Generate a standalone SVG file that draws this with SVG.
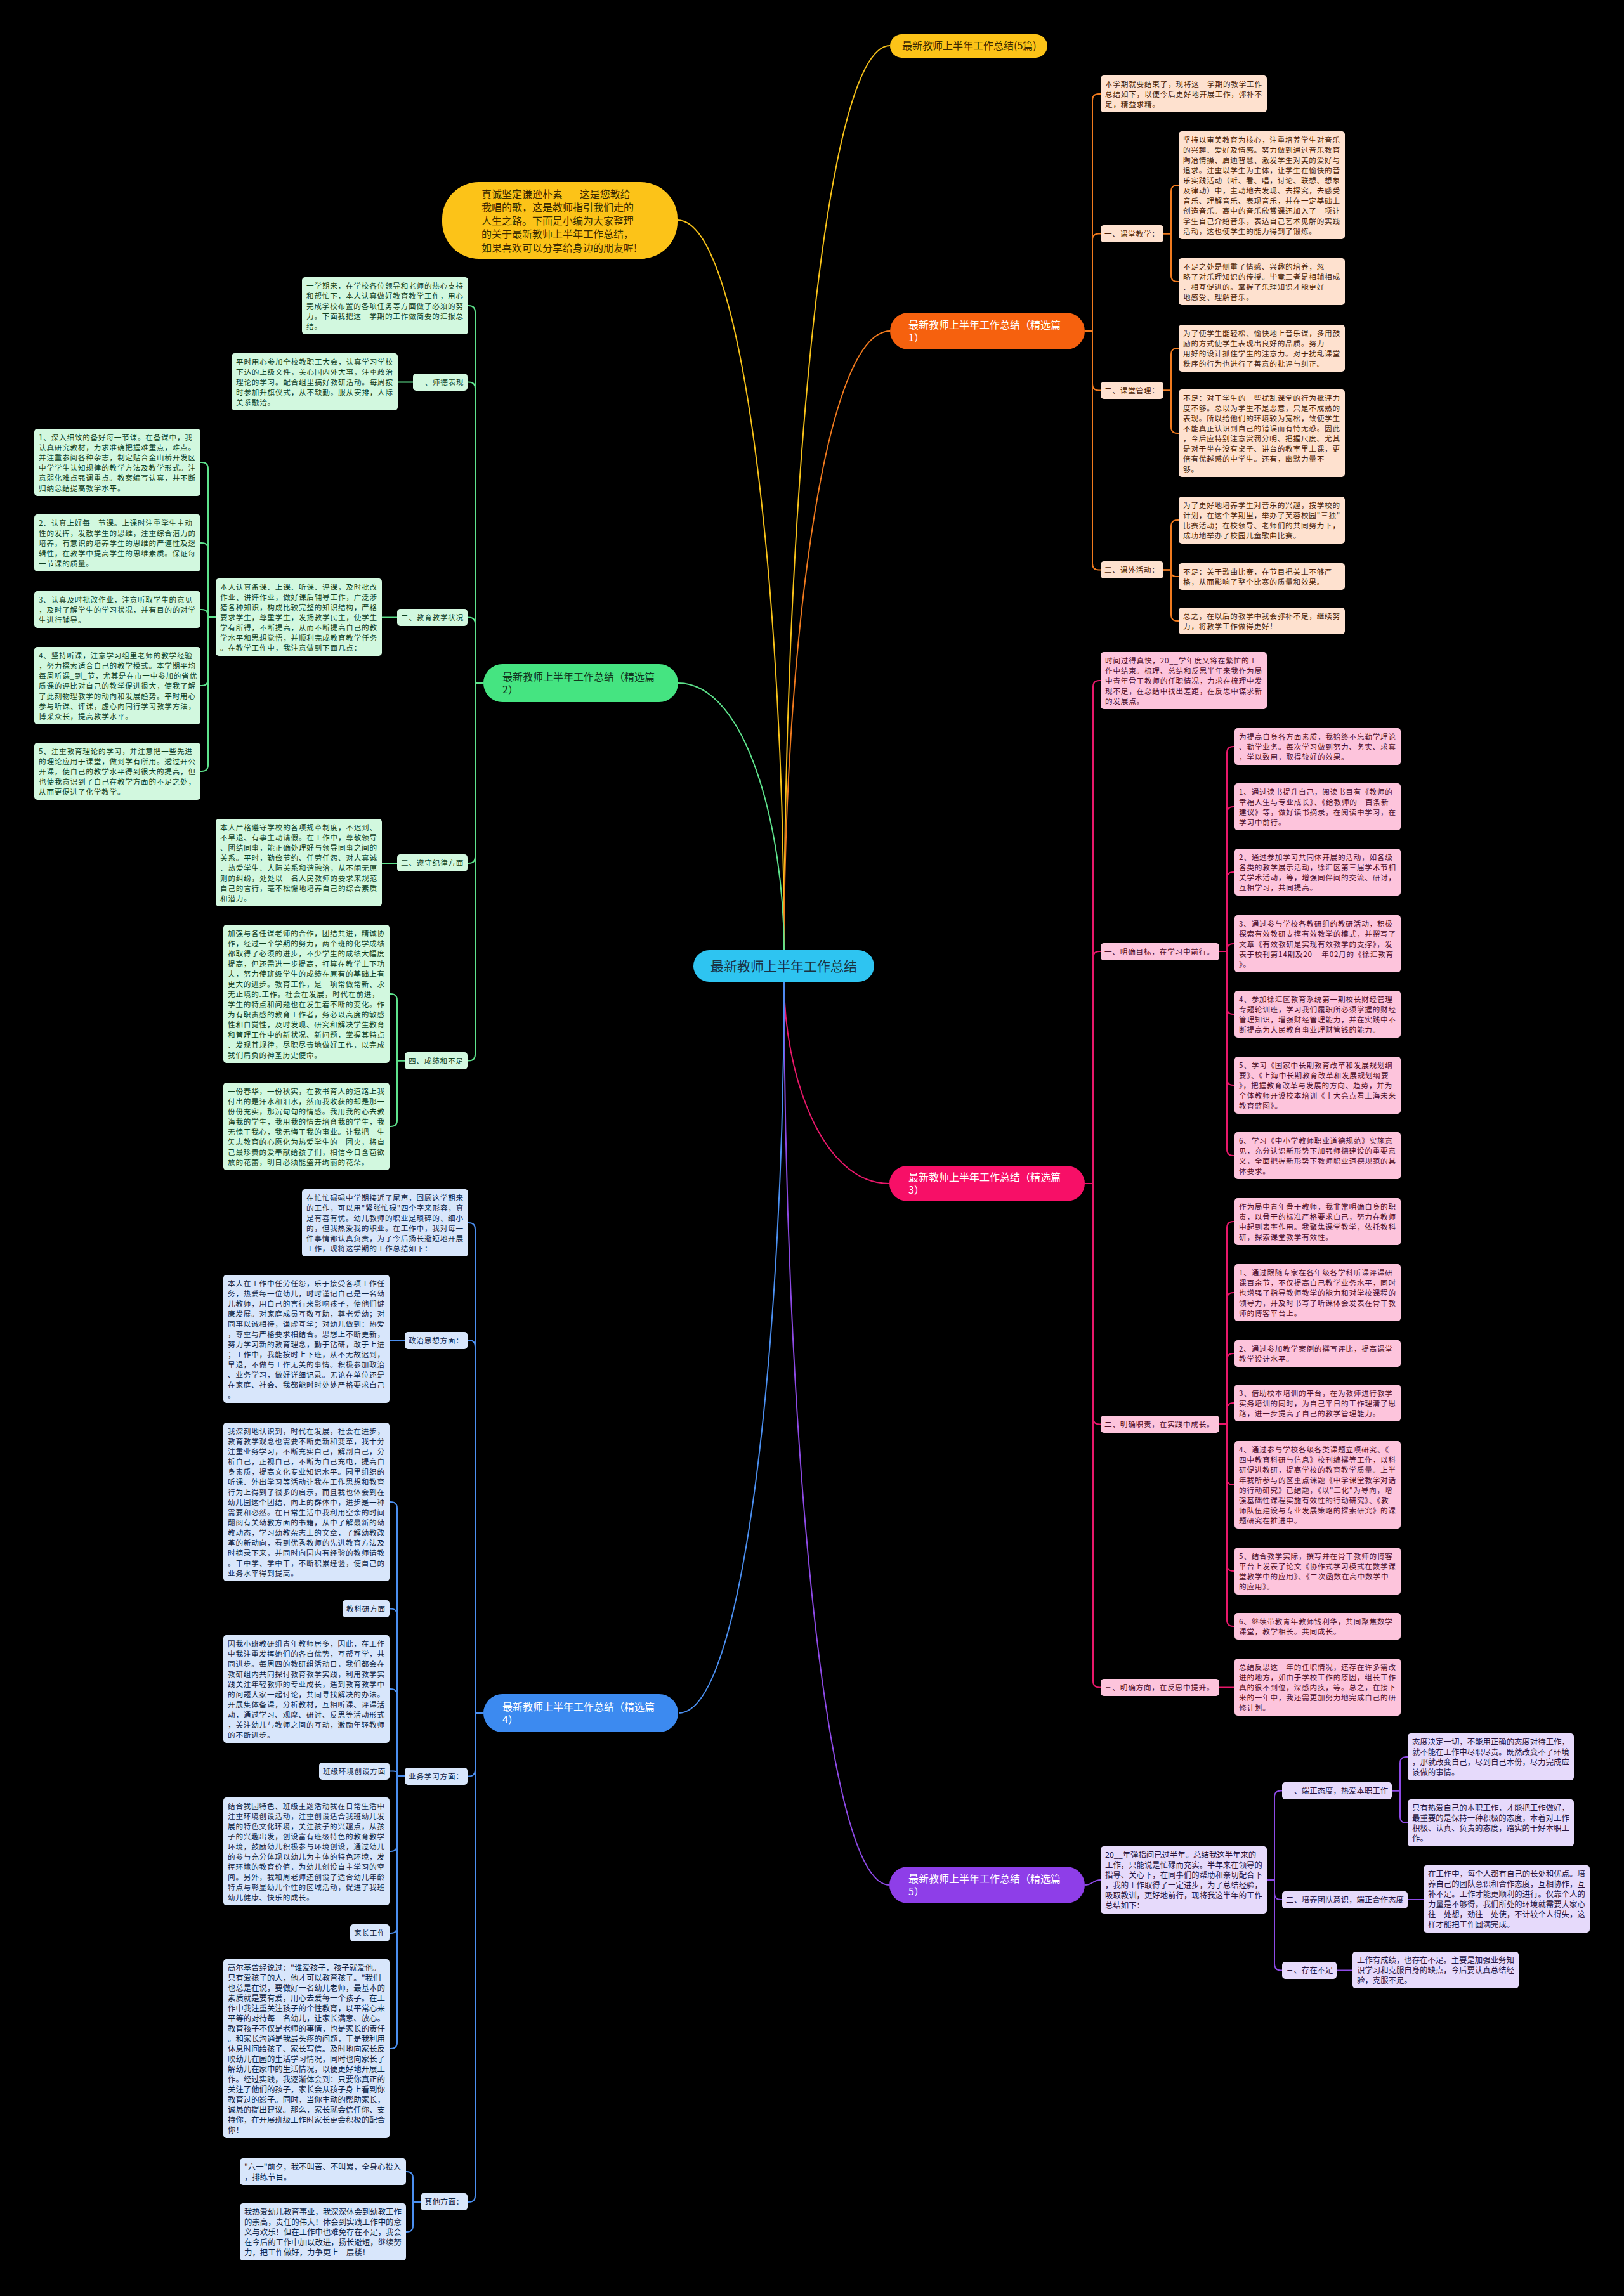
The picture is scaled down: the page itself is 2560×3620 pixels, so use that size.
<svg xmlns="http://www.w3.org/2000/svg" width="2560" height="3620" viewBox="0 0 2560 3620">
<style>
text{font-family:"Noto Sans CJK SC","Noto Sans",sans-serif;}
.t{font-size:11.6px;letter-spacing:0.8px;}
.tp{font-size:12.4px;}
.o rect{fill:#fee1cf}.o text{fill:#4a1d06}
.p rect{fill:#fdc4dc}.p text{fill:#4d0d28}
.v rect{fill:#e6dafb}.v text{fill:#25143f}
.g rect{fill:#d2f8df}.g text{fill:#0e3f1f}
.b rect{fill:#d8e6fb}.b text{fill:#0d2446}
.main{font-size:16px;}
.c path{fill:none;stroke-width:2;}
.co path{stroke:#f07a1e}.cp path{stroke:#e8186a}.cv path{stroke:#8e4ae6}.cg path{stroke:#5ee38c}.cb path{stroke:#4b8ff0}.cy path{stroke:#f7c21a}
</style>
<rect x="0" y="0" width="2560" height="3620" fill="#000"/>

<g id="connectors" class="c">
 <g class="cy">
  <path d="M1236 1498C1236 856 1294 72 1403 72"/>
  <path d="M1236 1498C1236 980 1177 347 1068 347"/>
 </g>
 <g class="co">
  <path d="M1236 1498C1236 1059 1294 522 1403 522"/>
  <path d="M1710 522H1722V158Q1722 148 1732 148H1735"/>
  <path d="M1710 522H1722V378.5Q1722 368.5 1732 368.5H1735"/>
  <path d="M1710 522H1722V605.5Q1722 615.5 1732 615.5H1735"/>
  <path d="M1710 522H1722V888.5Q1722 898.5 1732 898.5H1735"/>
  <path d="M1834 368.5H1846V302Q1846 292 1856 292H1858"/>
  <path d="M1834 368.5H1846V434Q1846 444 1856 444H1858"/>
  <path d="M1834 615.5H1846V559Q1846 549 1856 549H1858"/>
  <path d="M1834 615.5H1846V673Q1846 683 1856 683H1858"/>
  <path d="M1834 898.5H1846V830Q1846 820 1856 820H1858"/>
  <path d="M1834 898.5H1846V901Q1846 909 1854 909H1858"/>
  <path d="M1834 898.5H1846V969Q1846 979 1856 979H1858"/>
 </g>
 <g class="cp">
  <path d="M1236 1548C1236 1691 1294 1866 1402 1866"/>
  <path d="M1710 1866H1723V1083Q1723 1073 1733 1073H1735"/>
  <path d="M1710 1866H1723V1510Q1723 1500 1733 1500H1735"/>
  <path d="M1710 1866H1723V2235.5Q1723 2245.5 1733 2245.5H1735"/>
  <path d="M1710 1866H1723V2650.5Q1723 2660.5 1733 2660.5H1735"/>
  <path d="M1922 1500H1934V1187Q1934 1177 1944 1177H1946"/>
  <path d="M1922 1500H1934V1282Q1934 1272 1944 1272H1946"/>
  <path d="M1922 1500H1934V1385Q1934 1375 1944 1375H1946"/>
  <path d="M1922 1500H1934V1498Q1934 1488 1944 1488H1946"/>
  <path d="M1922 1500H1934V1589Q1934 1599 1944 1599H1946"/>
  <path d="M1922 1500H1934V1701Q1934 1711 1944 1711H1946"/>
  <path d="M1922 1500H1934V1812Q1934 1822 1944 1822H1946"/>
  <path d="M1922 2245.5H1934V1936Q1934 1926 1944 1926H1946"/>
  <path d="M1922 2245.5H1934V2048Q1934 2038 1944 2038H1946"/>
  <path d="M1922 2245.5H1934V2144Q1934 2134 1944 2134H1946"/>
  <path d="M1922 2245.5H1934V2222Q1934 2212 1944 2212H1946"/>
  <path d="M1922 2245.5H1934V2331Q1934 2341 1944 2341H1946"/>
  <path d="M1922 2245.5H1934V2467Q1934 2477 1944 2477H1946"/>
  <path d="M1922 2245.5H1934V2554Q1934 2564 1944 2564H1946"/>
  <path d="M1922 2660.5H1946"/>
 </g>
 <g class="cv">
  <path d="M1236 1548C1236 2189 1294 2972 1402 2972"/>
  <path d="M1710 2972C1723 2972 1722 2964 1735 2964"/>
  <path d="M1997 2964H2009V2833.5Q2009 2823.5 2019 2823.5H2021"/>
  <path d="M1997 2964H2009V2985Q2009 2995 2019 2995H2021"/>
  <path d="M1997 2964H2009V3096.5Q2009 3106.5 2019 3106.5H2021"/>
  <path d="M2194 2823.5H2207V2780Q2207 2770 2217 2770H2219"/>
  <path d="M2194 2823.5H2207V2864Q2207 2874 2217 2874H2219"/>
  <path d="M2219 2995H2244"/>
  <path d="M2107 3106.5H2132"/>
 </g>
 <g class="cg">
  <path d="M1236 1498C1236 1309 1177 1077 1069 1077"/>
  <path d="M762 1077H749V492Q749 482 739 482H737"/>
  <path d="M762 1077H749V612.5Q749 602.5 739 602.5H737"/>
  <path d="M762 1077H749V983.5Q749 973.5 739 973.5H737"/>
  <path d="M762 1077H749V1351Q749 1361 739 1361H737"/>
  <path d="M762 1077H749V1662.5Q749 1672.5 739 1672.5H737"/>
  <path d="M651 602.5H627"/>
  <path d="M626 973.5H602"/>
  <path d="M340 973H328V739Q328 729 318 729H316"/>
  <path d="M340 973H328V866Q328 856 318 856H316"/>
  <path d="M340 973H328V971Q328 961 318 961H316"/>
  <path d="M340 973H328V1071Q328 1081 318 1081H316"/>
  <path d="M340 973H328V1206Q328 1216 318 1216H316"/>
  <path d="M626 1361H602"/>
  <path d="M638 1672.5H626V1577Q626 1567 616 1567H614"/>
  <path d="M638 1672.5H626V1766Q626 1776 616 1776H614"/>
 </g>
 <g class="cb">
  <path d="M1236 1548C1236 2067 1178 2701 1070 2701"/>
  <path d="M762 2701H749V1938Q749 1928 739 1928H737"/>
  <path d="M762 2701H749V2123Q749 2113 739 2113H737"/>
  <path d="M762 2701H749V2790.5Q749 2800.5 739 2800.5H737"/>
  <path d="M762 2701H749V3462Q749 3472 739 3472H737"/>
  <path d="M638 2113H614"/>
  <path d="M638 2800.5H626V2378Q626 2368 616 2368H614"/>
  <path d="M638 2800.5H626V2546.5Q626 2536.5 616 2536.5H614"/>
  <path d="M638 2800.5H626V2673Q626 2663 616 2663H614"/>
  <path d="M638 2800.5H626V2795Q626 2792.5 620 2792.5H614"/>
  <path d="M638 2800.5H626V2909Q626 2919 616 2919H614"/>
  <path d="M638 2800.5H626V3038Q626 3048 616 3048H614"/>
  <path d="M638 2800.5H626V3220Q626 3230 616 3230H614"/>
  <path d="M663 3472H651V3434Q651 3424 641 3424H640"/>
  <path d="M663 3472H651V3509Q651 3519 641 3519H640"/>
 </g>
</g>

<!-- top level -->
<g id="center"><rect x="1093" y="1498" width="285" height="50" rx="25" fill="#2ec4f1"/><text x="1235.5" y="1530.5" font-size="21" text-anchor="middle" fill="#1a3344">最新教师上半年工作总结</text></g>
<g id="title5"><rect x="1403" y="54" width="248" height="37" rx="18.5" fill="#fcc318"/><text class="main" x="1422" y="78" fill="#3a2b00">最新教师上半年工作总结(5篇)</text></g>
<g id="callout"><rect x="697" y="287" width="371" height="121" rx="58" fill="#fcc318"/><text class="main" x="759" y="311.5" fill="#3a2b00"><tspan x="759">真诚坚定谦逊朴素——这是您教给</tspan><tspan x="759" dy="21.3">我唱的歌，这是教师指引我们走的</tspan><tspan x="759" dy="21.3">人生之路。下面是小编为大家整理</tspan><tspan x="759" dy="21.3">的关于最新教师上半年工作总结，</tspan><tspan x="759" dy="21.3">如果喜欢可以分享给身边的朋友喔!</tspan></text></g>
<g id="b1"><rect x="1403" y="493" width="307" height="58" rx="29" fill="#f6610e"/><text class="main" x="1432" y="517.5" fill="#fff"><tspan x="1432">最新教师上半年工作总结（精选篇</tspan><tspan x="1432" dy="20">1）</tspan></text></g>
<g id="b3"><rect x="1402" y="1838" width="308" height="56" rx="28" fill="#f70f67"/><text class="main" x="1432" y="1861.5" fill="#fff"><tspan x="1432">最新教师上半年工作总结（精选篇</tspan><tspan x="1432" dy="20">3）</tspan></text></g>
<g id="b5"><rect x="1402" y="2943" width="308" height="58" rx="29" fill="#8e3ee8"/><text class="main" x="1432" y="2967.5" fill="#fff"><tspan x="1432">最新教师上半年工作总结（精选篇</tspan><tspan x="1432" dy="20">5）</tspan></text></g>
<g id="b2"><rect x="762" y="1047" width="307" height="60" rx="30" fill="#45e481"/><text class="main" x="792" y="1072.5" fill="#12381f"><tspan x="792">最新教师上半年工作总结（精选篇</tspan><tspan x="792" dy="20">2）</tspan></text></g>
<g id="b4"><rect x="762" y="2671" width="307" height="60" rx="30" fill="#3c8af0"/><text class="main" x="792" y="2696.5" fill="#fff"><tspan x="792">最新教师上半年工作总结（精选篇</tspan><tspan x="792" dy="20">4）</tspan></text></g>

<!-- 精选篇1 -->
<g id="n1-intro" class="o"><rect x="1735" y="119" width="262" height="58" rx="5"/><text class="t" x="1742" y="136.5"><tspan x="1742">本学期就要结束了，现将这一学期的教学工作</tspan><tspan x="1742" dy="16">总结如下，以便今后更好地开展工作，弥补不</tspan><tspan x="1742" dy="16">足，精益求精。</tspan></text></g>
<g id="n1-l1" class="o"><rect x="1735" y="355" width="99" height="27" rx="5"/><text class="t" x="1741" y="373">一、课堂教学：</text></g>
<g id="n1-a1" class="o"><rect x="1858" y="207" width="262" height="170" rx="5"/><text class="t" x="1865" y="224.5"><tspan x="1865">坚持以审美教育为核心，注重培养学生对音乐</tspan><tspan x="1865" dy="16">的兴趣、爱好及情感。努力做到通过音乐教育</tspan><tspan x="1865" dy="16">陶冶情操、启迪智慧、激发学生对美的爱好与</tspan><tspan x="1865" dy="16">追求。注重以学生为主体，让学生在愉快的音</tspan><tspan x="1865" dy="16">乐实践活动（听、看、唱，讨论、联想、想象</tspan><tspan x="1865" dy="16">及律动）中，主动地去发现、去探究，去感受</tspan><tspan x="1865" dy="16">音乐、理解音乐、表现音乐，并在一定基础上</tspan><tspan x="1865" dy="16">创造音乐。高中的音乐欣赏课还加入了一项让</tspan><tspan x="1865" dy="16">学生自己介绍音乐，表达自己艺术见解的实践</tspan><tspan x="1865" dy="16">活动，这也使学生的能力得到了锻炼。</tspan></text></g>
<g id="n1-a2" class="o"><rect x="1858" y="407" width="262" height="74" rx="5"/><text class="t" x="1865" y="424.5"><tspan x="1865">不足之处是侧重了情感、兴趣的培养，忽</tspan><tspan x="1865" dy="16">略了对乐理知识的传授。毕竟三者是相辅相成</tspan><tspan x="1865" dy="16">、相互促进的。掌握了乐理知识才能更好</tspan><tspan x="1865" dy="16">地感受、理解音乐。</tspan></text></g>
<g id="n1-l2" class="o"><rect x="1735" y="602" width="99" height="27" rx="5"/><text class="t" x="1741" y="620">二、课堂管理：</text></g>
<g id="n1-b1" class="o"><rect x="1858" y="512" width="262" height="74" rx="5"/><text class="t" x="1865" y="529.5"><tspan x="1865">为了使学生能轻松、愉快地上音乐课，多用鼓</tspan><tspan x="1865" dy="16">励的方式使学生表现出良好的品质。努力</tspan><tspan x="1865" dy="16">用好的设计抓住学生的注意力。对于扰乱课堂</tspan><tspan x="1865" dy="16">秩序的行为也进行了善意的批评与纠正。</tspan></text></g>
<g id="n1-b2" class="o"><rect x="1858" y="614" width="262" height="138" rx="5"/><text class="t" x="1865" y="631.5"><tspan x="1865">不足：对于学生的一些扰乱课堂的行为批评力</tspan><tspan x="1865" dy="16">度不够。总以为学生不是恶意，只是不成熟的</tspan><tspan x="1865" dy="16">表现。所以给他们的环境较为宽松，致使学生</tspan><tspan x="1865" dy="16">不能真正认识到自己的错误而有恃无恐。因此</tspan><tspan x="1865" dy="16">，今后应特别注意赏罚分明、把握尺度。尤其</tspan><tspan x="1865" dy="16">是对于坐在没有桌子、讲台的教室里上课，更</tspan><tspan x="1865" dy="16">倍有优越感的中学生。还有，幽默力量不</tspan><tspan x="1865" dy="16">够。</tspan></text></g>
<g id="n1-l3" class="o"><rect x="1735" y="885" width="99" height="27" rx="5"/><text class="t" x="1741" y="903">三、课外活动：</text></g>
<g id="n1-c1" class="o"><rect x="1858" y="783" width="262" height="74" rx="5"/><text class="t" x="1865" y="800.5"><tspan x="1865">为了更好地培养学生对音乐的兴趣，按学校的</tspan><tspan x="1865" dy="16">计划，在这个学期里，举办了芙蓉校园"三独"</tspan><tspan x="1865" dy="16">比赛活动；在校领导、老师们的共同努力下，</tspan><tspan x="1865" dy="16">成功地举办了校园儿童歌曲比赛。</tspan></text></g>
<g id="n1-c2" class="o"><rect x="1858" y="888" width="262" height="42" rx="5"/><text class="t" x="1865" y="905.5"><tspan x="1865">不足：关于歌曲比赛，在节目把关上不够严</tspan><tspan x="1865" dy="16">格，从而影响了整个比赛的质量和效果。</tspan></text></g>
<g id="n1-c3" class="o"><rect x="1858" y="958" width="262" height="42" rx="5"/><text class="t" x="1865" y="975.5"><tspan x="1865">总之，在以后的教学中我会弥补不足，继续努</tspan><tspan x="1865" dy="16">力，将教学工作做得更好！</tspan></text></g>

<!-- 精选篇3 -->
<g id="n3-intro" class="p"><rect x="1735" y="1028" width="262" height="90" rx="5"/><text class="t" x="1742" y="1045.5"><tspan x="1742">时间过得真快，20__学年度又将在繁忙的工</tspan><tspan x="1742" dy="16">作中结束。梳理、总结和反思半年来我作为局</tspan><tspan x="1742" dy="16">中青年骨干教师的任职情况，力求在梳理中发</tspan><tspan x="1742" dy="16">现不足，在总结中找出差距，在反思中谋求新</tspan><tspan x="1742" dy="16">的发展点。</tspan></text></g>
<g id="n3-l1" class="p"><rect x="1735" y="1487" width="187" height="27" rx="5"/><text class="t" x="1741" y="1505">一、明确目标，在学习中前行。</text></g>
<g id="n3-p1" class="p"><rect x="1946" y="1148" width="262" height="58" rx="5"/><text class="t" x="1953" y="1165.5"><tspan x="1953">为提高自身各方面素质，我始终不忘勤学理论</tspan><tspan x="1953" dy="16">、勤学业务。每次学习做到努力、务实、求真</tspan><tspan x="1953" dy="16">，学以致用，取得较好的效果。</tspan></text></g>
<g id="n3-p2" class="p"><rect x="1946" y="1235" width="262" height="74" rx="5"/><text class="t" x="1953" y="1252.5"><tspan x="1953">1、通过读书提升自己，阅读书目有《教师的</tspan><tspan x="1953" dy="16">幸福人生与专业成长》、《给教师的一百条新</tspan><tspan x="1953" dy="16">建议》等，做好读书摘录，在阅读中学习，在</tspan><tspan x="1953" dy="16">学习中前行。</tspan></text></g>
<g id="n3-p3" class="p"><rect x="1946" y="1338" width="262" height="74" rx="5"/><text class="t" x="1953" y="1355.5"><tspan x="1953">2、通过参加学习共同体开展的活动，如各级</tspan><tspan x="1953" dy="16">各类的教学展示活动，徐汇区第三届学术节相</tspan><tspan x="1953" dy="16">关学术活动，等，增强同伴间的交流、研讨，</tspan><tspan x="1953" dy="16">互相学习，共同提高。</tspan></text></g>
<g id="n3-p4" class="p"><rect x="1946" y="1443" width="262" height="90" rx="5"/><text class="t" x="1953" y="1460.5"><tspan x="1953">3、通过参与学校各教研组的教研活动，积极</tspan><tspan x="1953" dy="16">探索有效教研支撑有效教学的模式，并撰写了</tspan><tspan x="1953" dy="16">文章《有效教研是实现有效教学的支撑》，发</tspan><tspan x="1953" dy="16">表于校刊第14期及20__年02月的《徐汇教育</tspan><tspan x="1953" dy="16">》。</tspan></text></g>
<g id="n3-p5" class="p"><rect x="1946" y="1562" width="262" height="74" rx="5"/><text class="t" x="1953" y="1579.5"><tspan x="1953">4、参加徐汇区教育系统第一期校长财经管理</tspan><tspan x="1953" dy="16">专题轮训班，学习我们履职所必须掌握的财经</tspan><tspan x="1953" dy="16">管理知识，增强财经管理能力，并在实践中不</tspan><tspan x="1953" dy="16">断提高为人民教育事业理财管钱的能力。</tspan></text></g>
<g id="n3-p6" class="p"><rect x="1946" y="1666" width="262" height="90" rx="5"/><text class="t" x="1953" y="1683.5"><tspan x="1953">5、学习《国家中长期教育改革和发展规划纲</tspan><tspan x="1953" dy="16">要》、《上海中长期教育改革和发展规划纲要</tspan><tspan x="1953" dy="16">》，把握教育改革与发展的方向、趋势，并为</tspan><tspan x="1953" dy="16">全体教师开设校本培训《十大亮点看上海未来</tspan><tspan x="1953" dy="16">教育蓝图》。</tspan></text></g>
<g id="n3-p7" class="p"><rect x="1946" y="1785" width="262" height="74" rx="5"/><text class="t" x="1953" y="1802.5"><tspan x="1953">6、学习《中小学教师职业道德规范》实施意</tspan><tspan x="1953" dy="16">见，充分认识新形势下加强师德建设的重要意</tspan><tspan x="1953" dy="16">义，全面把握新形势下教师职业道德规范的具</tspan><tspan x="1953" dy="16">体要求。</tspan></text></g>
<g id="n3-l2" class="p"><rect x="1735" y="2232" width="187" height="27" rx="5"/><text class="t" x="1741" y="2250">二、明确职责，在实践中成长。</text></g>
<g id="n3-q1" class="p"><rect x="1946" y="1889" width="262" height="74" rx="5"/><text class="t" x="1953" y="1906.5"><tspan x="1953">作为局中青年骨干教师，我非常明确自身的职</tspan><tspan x="1953" dy="16">责，以骨干的标准严格要求自己，努力在教师</tspan><tspan x="1953" dy="16">中起到表率作用。我聚焦课堂教学，依托教科</tspan><tspan x="1953" dy="16">研，探索课堂教学有效性。</tspan></text></g>
<g id="n3-q2" class="p"><rect x="1946" y="1993" width="262" height="90" rx="5"/><text class="t" x="1953" y="2010.5"><tspan x="1953">1、通过跟随专家在各年级各学科听课评课研</tspan><tspan x="1953" dy="16">课百余节，不仅提高自己教学业务水平，同时</tspan><tspan x="1953" dy="16">也增强了指导教师教学的能力和对学校课程的</tspan><tspan x="1953" dy="16">领导力，并及时书写了听课体会发表在骨干教</tspan><tspan x="1953" dy="16">师的博客平台上。</tspan></text></g>
<g id="n3-q3" class="p"><rect x="1946" y="2113" width="262" height="42" rx="5"/><text class="t" x="1953" y="2130.5"><tspan x="1953">2、通过参加教学案例的撰写评比，提高课堂</tspan><tspan x="1953" dy="16">教学设计水平。</tspan></text></g>
<g id="n3-q4" class="p"><rect x="1946" y="2183" width="262" height="58" rx="5"/><text class="t" x="1953" y="2200.5"><tspan x="1953">3、借助校本培训的平台，在为教师进行教学</tspan><tspan x="1953" dy="16">实务培训的同时，为自己平日的工作理清了思</tspan><tspan x="1953" dy="16">路，进一步提高了自己的教学管理能力。</tspan></text></g>
<g id="n3-q5" class="p"><rect x="1946" y="2272" width="262" height="138" rx="5"/><text class="t" x="1953" y="2289.5"><tspan x="1953">4、通过参与学校各级各类课题立项研究、《</tspan><tspan x="1953" dy="16">四中教育科研与信息》校刊编撰等工作，以科</tspan><tspan x="1953" dy="16">研促进教研，提高学校的教育教学质量。上半</tspan><tspan x="1953" dy="16">年我所参与的区重点课题《中学课堂教学对话</tspan><tspan x="1953" dy="16">的行动研究》已结题，《以"三化"为导向，增</tspan><tspan x="1953" dy="16">强基础性课程实施有效性的行动研究》、《教</tspan><tspan x="1953" dy="16">师队伍建设与专业发展策略的探索研究》的课</tspan><tspan x="1953" dy="16">题研究在推进中。</tspan></text></g>
<g id="n3-q6" class="p"><rect x="1946" y="2440" width="262" height="74" rx="5"/><text class="t" x="1953" y="2457.5"><tspan x="1953">5、结合教学实际，撰写并在骨干教师的博客</tspan><tspan x="1953" dy="16">平台上发表了论文《协作式学习模式在数学课</tspan><tspan x="1953" dy="16">堂教学中的应用》、《二次函数在高中数学中</tspan><tspan x="1953" dy="16">的应用》。</tspan></text></g>
<g id="n3-q7" class="p"><rect x="1946" y="2543" width="262" height="42" rx="5"/><text class="t" x="1953" y="2560.5"><tspan x="1953">6、继续带教青年教师钱利华，共同聚焦数学</tspan><tspan x="1953" dy="16">课堂，教学相长。共同成长。</tspan></text></g>
<g id="n3-l3" class="p"><rect x="1735" y="2647" width="187" height="27" rx="5"/><text class="t" x="1741" y="2665">三、明确方向，在反思中提升。</text></g>
<g id="n3-r1" class="p"><rect x="1946" y="2615" width="262" height="90" rx="5"/><text class="t" x="1953" y="2632.5"><tspan x="1953">总结反思这一年的任职情况，还存在许多需改</tspan><tspan x="1953" dy="16">进的地方，如由于学校工作的原因，组长工作</tspan><tspan x="1953" dy="16">真的很不到位，深感内疚，等。总之，在接下</tspan><tspan x="1953" dy="16">来的一年中，我还需更加努力地完成自己的研</tspan><tspan x="1953" dy="16">修计划。</tspan></text></g>

<!-- 精选篇5 -->
<g id="n5-intro" class="v"><rect x="1735" y="2911" width="262" height="106" rx="5"/><text class="tp" x="1742" y="2928.5"><tspan x="1742">20__年弹指间已过半年。总结我这半年来的</tspan><tspan x="1742" dy="16">工作，只能说是忙碌而充实。半年来在领导的</tspan><tspan x="1742" dy="16">指导、关心下，在同事们的帮助和亲切配合下</tspan><tspan x="1742" dy="16">，我的工作取得了一定进步，为了总结经验，</tspan><tspan x="1742" dy="16">吸取教训，更好地前行，现将我这半年的工作</tspan><tspan x="1742" dy="16">总结如下：</tspan></text></g>
<g id="n5-l1" class="v"><rect x="2021" y="2810" width="173" height="27" rx="5"/><text class="tp" x="2027" y="2828">一、端正态度，热爱本职工作</text></g>
<g id="n5-s1" class="v"><rect x="2219" y="2733" width="262" height="74" rx="5"/><text class="tp" x="2226" y="2750.5"><tspan x="2226">态度决定一切，不能用正确的态度对待工作，</tspan><tspan x="2226" dy="16">就不能在工作中尽职尽责。既然改变不了环境</tspan><tspan x="2226" dy="16">，那就改变自己，尽到自己本份，尽力完成应</tspan><tspan x="2226" dy="16">该做的事情。</tspan></text></g>
<g id="n5-s2" class="v"><rect x="2219" y="2837" width="262" height="74" rx="5"/><text class="tp" x="2226" y="2854.5"><tspan x="2226">只有热爱自己的本职工作，才能把工作做好，</tspan><tspan x="2226" dy="16">最重要的是保持一种积极的态度，本着对工作</tspan><tspan x="2226" dy="16">积极、认真、负责的态度，踏实的干好本职工</tspan><tspan x="2226" dy="16">作。</tspan></text></g>
<g id="n5-l2" class="v"><rect x="2021" y="2982" width="198" height="27" rx="5"/><text class="tp" x="2027" y="3000">二、培养团队意识，端正合作态度</text></g>
<g id="n5-t1" class="v"><rect x="2244" y="2941" width="262" height="106" rx="5"/><text class="tp" x="2251" y="2958.5"><tspan x="2251">在工作中，每个人都有自己的长处和优点。培</tspan><tspan x="2251" dy="16">养自己的团队意识和合作态度，互相协作，互</tspan><tspan x="2251" dy="16">补不足。工作才能更顺利的进行。仅靠个人的</tspan><tspan x="2251" dy="16">力量是不够得，我们所处的环境就需要大家心</tspan><tspan x="2251" dy="16">往一处想，劲往一处使，不计较个人得失，这</tspan><tspan x="2251" dy="16">样才能把工作圆满完成。</tspan></text></g>
<g id="n5-l3" class="v"><rect x="2021" y="3093" width="86" height="27" rx="5"/><text class="tp" x="2027" y="3111">三、存在不足</text></g>
<g id="n5-u1" class="v"><rect x="2132" y="3077" width="262" height="58" rx="5"/><text class="tp" x="2139" y="3094.5"><tspan x="2139">工作有成绩，也存在不足。主要是加强业务知</tspan><tspan x="2139" dy="16">识学习和克服自身的缺点，今后要认真总结经</tspan><tspan x="2139" dy="16">验，克服不足。</tspan></text></g>

<!-- 精选篇2 -->
<g id="n2-intro" class="g"><rect x="476" y="437" width="262" height="90" rx="5"/><text class="t" x="483" y="454.5"><tspan x="483">一学期来，在学校各位领导和老师的热心支持</tspan><tspan x="483" dy="16">和帮忙下，本人认真做好教育教学工作，用心</tspan><tspan x="483" dy="16">完成学校布置的各项任务等方面做了必须的努</tspan><tspan x="483" dy="16">力。下面我把这一学期的工作做简要的汇报总</tspan><tspan x="483" dy="16">结。</tspan></text></g>
<g id="n2-l1" class="g"><rect x="651" y="589" width="86" height="27" rx="5"/><text class="t" x="657" y="607">一、师德表现</text></g>
<g id="n2-v1" class="g"><rect x="365" y="557" width="262" height="90" rx="5"/><text class="t" x="372" y="574.5"><tspan x="372">平时用心参加全校教职工大会，认真学习学校</tspan><tspan x="372" dy="16">下达的上级文件，关心国内外大事，注重政治</tspan><tspan x="372" dy="16">理论的学习。配合组里搞好教研活动。每周按</tspan><tspan x="372" dy="16">时参加升旗仪式，从不缺勤。服从安排，人际</tspan><tspan x="372" dy="16">关系融洽。</tspan></text></g>
<g id="n2-l2" class="g"><rect x="626" y="960" width="111" height="27" rx="5"/><text class="t" x="632" y="978">二、教育教学状况</text></g>
<g id="n2-w" class="g"><rect x="340" y="912" width="262" height="122" rx="5"/><text class="t" x="347" y="929.5"><tspan x="347">本人认真备课、上课、听课、评课，及时批改</tspan><tspan x="347" dy="16">作业、讲评作业，做好课后辅导工作，广泛涉</tspan><tspan x="347" dy="16">猎各种知识，构成比较完整的知识结构，严格</tspan><tspan x="347" dy="16">要求学生，尊重学生，发扬教学民主，使学生</tspan><tspan x="347" dy="16">学有所得，不断提高，从而不断提高自己的教</tspan><tspan x="347" dy="16">学水平和思想觉悟，并顺利完成教育教学任务</tspan><tspan x="347" dy="16">。在教学工作中，我注意做到下面几点：</tspan></text></g>
<g id="n2-w1" class="g"><rect x="54" y="676" width="262" height="106" rx="5"/><text class="t" x="61" y="693.5"><tspan x="61">1、深入细致的备好每一节课。在备课中，我</tspan><tspan x="61" dy="16">认真研究教材，力求准确把握难重点，难点。</tspan><tspan x="61" dy="16">并注重参阅各种杂志，制定贴合金山桥开发区</tspan><tspan x="61" dy="16">中学学生认知规律的教学方法及教学形式。注</tspan><tspan x="61" dy="16">意弱化难点强调重点。教案编写认真，并不断</tspan><tspan x="61" dy="16">归纳总结提高教学水平。</tspan></text></g>
<g id="n2-w2" class="g"><rect x="54" y="811" width="262" height="90" rx="5"/><text class="t" x="61" y="828.5"><tspan x="61">2、认真上好每一节课。上课时注重学生主动</tspan><tspan x="61" dy="16">性的发挥，发散学生的思维，注重综合潜力的</tspan><tspan x="61" dy="16">培养，有意识的培养学生的思维的严谨性及逻</tspan><tspan x="61" dy="16">辑性，在教学中提高学生的思维素质。保证每</tspan><tspan x="61" dy="16">一节课的质量。</tspan></text></g>
<g id="n2-w3" class="g"><rect x="54" y="932" width="262" height="58" rx="5"/><text class="t" x="61" y="949.5"><tspan x="61">3、认真及时批改作业，注意听取学生的意见</tspan><tspan x="61" dy="16">，及时了解学生的学习状况，并有目的的对学</tspan><tspan x="61" dy="16">生进行辅导。</tspan></text></g>
<g id="n2-w4" class="g"><rect x="54" y="1020" width="262" height="122" rx="5"/><text class="t" x="61" y="1037.5"><tspan x="61">4、坚持听课，注意学习组里老师的教学经验</tspan><tspan x="61" dy="16">，努力探索适合自己的教学模式。本学期平均</tspan><tspan x="61" dy="16">每周听课_到_节，尤其是在市一中参加的省优</tspan><tspan x="61" dy="16">质课的评比对自己的教学促进很大，使我了解</tspan><tspan x="61" dy="16">了此刻物理教学的动向和发展趋势。平时用心</tspan><tspan x="61" dy="16">参与听课、评课，虚心向同行学习教学方法，</tspan><tspan x="61" dy="16">博采众长，提高教学水平。</tspan></text></g>
<g id="n2-w5" class="g"><rect x="54" y="1171" width="262" height="90" rx="5"/><text class="t" x="61" y="1188.5"><tspan x="61">5、注重教育理论的学习，并注意把一些先进</tspan><tspan x="61" dy="16">的理论应用于课堂，做到学有所用。透过开公</tspan><tspan x="61" dy="16">开课，使自己的教学水平得到很大的提高，但</tspan><tspan x="61" dy="16">也使我意识到了自己在教学方面的不足之处，</tspan><tspan x="61" dy="16">从而更促进了化学教学。</tspan></text></g>
<g id="n2-l3" class="g"><rect x="626" y="1347" width="111" height="27" rx="5"/><text class="t" x="632" y="1365">三、遵守纪律方面</text></g>
<g id="n2-x1" class="g"><rect x="340" y="1291" width="262" height="138" rx="5"/><text class="t" x="347" y="1308.5"><tspan x="347">本人严格遵守学校的各项规章制度，不迟到、</tspan><tspan x="347" dy="16">不早退、有事主动请假。在工作中，尊敬领导</tspan><tspan x="347" dy="16">、团结同事，能正确处理好与领导同事之间的</tspan><tspan x="347" dy="16">关系。平时，勤俭节约、任劳任怨、对人真诚</tspan><tspan x="347" dy="16">、热爱学生、人际关系和谐融洽，从不闹无原</tspan><tspan x="347" dy="16">则的纠纷，处处以一名人民教师的要求来规范</tspan><tspan x="347" dy="16">自己的言行，毫不松懈地培养自己的综合素质</tspan><tspan x="347" dy="16">和潜力。</tspan></text></g>
<g id="n2-l4" class="g"><rect x="638" y="1659" width="99" height="27" rx="5"/><text class="t" x="644" y="1677">四、成绩和不足</text></g>
<g id="n2-y1" class="g"><rect x="352" y="1458" width="262" height="218" rx="5"/><text class="t" x="359" y="1475.5"><tspan x="359">加强与各任课老师的合作，团结共进，精诚协</tspan><tspan x="359" dy="16">作，经过一个学期的努力，两个班的化学成绩</tspan><tspan x="359" dy="16">都取得了必须的进步，不少学生的成绩大幅度</tspan><tspan x="359" dy="16">提高，但还需进一步提高，打算在教学上下功</tspan><tspan x="359" dy="16">夫，努力使班级学生的成绩在原有的基础上有</tspan><tspan x="359" dy="16">更大的进步。教育工作，是一项常做常新、永</tspan><tspan x="359" dy="16">无止境的.工作。社会在发展，时代在前进，</tspan><tspan x="359" dy="16">学生的特点和问题也在发生着不断的变化。作</tspan><tspan x="359" dy="16">为有职责感的教育工作者，务必以高度的敏感</tspan><tspan x="359" dy="16">性和自觉性，及时发现、研究和解决学生教育</tspan><tspan x="359" dy="16">和管理工作中的新状况、新问题，掌握其特点</tspan><tspan x="359" dy="16">、发现其规律，尽职尽责地做好工作，以完成</tspan><tspan x="359" dy="16">我们肩负的神圣历史使命。</tspan></text></g>
<g id="n2-y2" class="g"><rect x="352" y="1707" width="262" height="138" rx="5"/><text class="t" x="359" y="1724.5"><tspan x="359">一份春华，一份秋实，在教书育人的道路上我</tspan><tspan x="359" dy="16">付出的是汗水和泪水，然而我收获的却是那一</tspan><tspan x="359" dy="16">份份充实，那沉甸甸的情感。我用我的心去教</tspan><tspan x="359" dy="16">诲我的学生，我用我的情去培育我的学生，我</tspan><tspan x="359" dy="16">无愧于我心，我无悔于我的事业。让我把一生</tspan><tspan x="359" dy="16">矢志教育的心愿化为热爱学生的一团火，将自</tspan><tspan x="359" dy="16">己最珍贵的爱奉献给孩子们，相信今日含苞欲</tspan><tspan x="359" dy="16">放的花蕾，明日必须能盛开绚丽的花朵。</tspan></text></g>

<!-- 精选篇4 -->
<g id="n4-intro" class="b"><rect x="476" y="1875" width="262" height="106" rx="5"/><text class="t" x="483" y="1892.5"><tspan x="483">在忙忙碌碌中学期接近了尾声，回顾这学期来</tspan><tspan x="483" dy="16">的工作，可以用"紧张忙碌"四个字来形容，真</tspan><tspan x="483" dy="16">是有喜有忧。幼儿教师的职业是琐碎的、细小</tspan><tspan x="483" dy="16">的，但我热爱我的职业。在工作中，我对每一</tspan><tspan x="483" dy="16">件事情都认真负责，为了今后扬长避短地开展</tspan><tspan x="483" dy="16">工作，现将这学期的工作总结如下：</tspan></text></g>
<g id="n4-l1" class="b"><rect x="638" y="2100" width="99" height="27" rx="5"/><text class="t" x="644" y="2118">政治思想方面：</text></g>
<g id="n4-z1" class="b"><rect x="352" y="2010" width="262" height="202" rx="5"/><text class="t" x="359" y="2027.5"><tspan x="359">本人在工作中任劳任怨，乐于接受各项工作任</tspan><tspan x="359" dy="16">务，热爱每一位幼儿，时时谨记自己是一名幼</tspan><tspan x="359" dy="16">儿教师，用自己的言行来影响孩子，使他们健</tspan><tspan x="359" dy="16">康发展。对家庭成员互敬互助，尊老爱幼；对</tspan><tspan x="359" dy="16">同事以诚相待，谦虚互学；对幼儿做到：热爱</tspan><tspan x="359" dy="16">，尊重与严格要求相结合。思想上不断更新，</tspan><tspan x="359" dy="16">努力学习新的教育理念，勤于钻研，敢于上进</tspan><tspan x="359" dy="16">；工作中，我能按时上下班，从不无故迟到，</tspan><tspan x="359" dy="16">早退，不做与工作无关的事情。积极参加政治</tspan><tspan x="359" dy="16">、业务学习，做好详细记录。无论在单位还是</tspan><tspan x="359" dy="16">在家庭、社会、我都能时时处处严格要求自己</tspan><tspan x="359" dy="16">。</tspan></text></g>
<g id="n4-l2" class="b"><rect x="638" y="2787" width="99" height="27" rx="5"/><text class="t" x="644" y="2805">业务学习方面：</text></g>
<g id="n4-aa1" class="b"><rect x="352" y="2243" width="262" height="250" rx="5"/><text class="t" x="359" y="2260.5"><tspan x="359">我深刻地认识到，时代在发展，社会在进步，</tspan><tspan x="359" dy="16">教育教学观念也需要不断更新和变革，我十分</tspan><tspan x="359" dy="16">注重业务学习，不断充实自己，解剖自己，分</tspan><tspan x="359" dy="16">析自己，正视自己，不断为自己充电，提高自</tspan><tspan x="359" dy="16">身素质，提高文化专业知识水平。园里组织的</tspan><tspan x="359" dy="16">听课、外出学习等活动让我在工作思想和教育</tspan><tspan x="359" dy="16">行为上得到了很多的启示，而且我也体会到在</tspan><tspan x="359" dy="16">幼儿园这个团结、向上的群体中，进步是一种</tspan><tspan x="359" dy="16">需要和必然。在日常生活中我利用空余的时间</tspan><tspan x="359" dy="16">翻阅有关幼教方面的书籍，从中了解最新的幼</tspan><tspan x="359" dy="16">教动态，学习幼教杂志上的文章，了解幼教改</tspan><tspan x="359" dy="16">革的新动向，看到优秀教师的先进教育方法及</tspan><tspan x="359" dy="16">时摘录下来，并同时向园内有经验的教师请教</tspan><tspan x="359" dy="16">。干中学、学中干，不断积累经验，使自己的</tspan><tspan x="359" dy="16">业务水平得到提高。</tspan></text></g>
<g id="n4-k1" class="b"><rect x="540" y="2523" width="74" height="27" rx="5"/><text class="t" x="546" y="2541">教科研方面</text></g>
<g id="n4-ab1" class="b"><rect x="352" y="2578" width="262" height="170" rx="5"/><text class="t" x="359" y="2595.5"><tspan x="359">因我小班教研组青年教师居多，因此，在工作</tspan><tspan x="359" dy="16">中我注重发挥她们的各自优势，互帮互学，共</tspan><tspan x="359" dy="16">同进步。每周四的教研组活动日，我们都会在</tspan><tspan x="359" dy="16">教研组内共同探讨教育教学实践，利用教学实</tspan><tspan x="359" dy="16">践关注年轻教师的专业成长，遇到教育教学中</tspan><tspan x="359" dy="16">的问题大家一起讨论，共同寻找解决的办法。</tspan><tspan x="359" dy="16">开展集体备课，分析教材，互相听课、评课活</tspan><tspan x="359" dy="16">动，通过学习、观摩、研讨、反思等活动形式</tspan><tspan x="359" dy="16">，关注幼儿与教师之间的互动，激励年轻教师</tspan><tspan x="359" dy="16">的不断进步。</tspan></text></g>
<g id="n4-k2" class="b"><rect x="503" y="2779" width="111" height="27" rx="5"/><text class="t" x="509" y="2797">班级环境创设方面</text></g>
<g id="n4-ac1" class="b"><rect x="352" y="2834" width="262" height="170" rx="5"/><text class="t" x="359" y="2851.5"><tspan x="359">结合我园特色、班级主题活动我在日常生活中</tspan><tspan x="359" dy="16">注重环境创设活动，注重创设适合我班幼儿发</tspan><tspan x="359" dy="16">展的特色文化环境，关注孩子的兴趣点，从孩</tspan><tspan x="359" dy="16">子的兴趣出发，创设富有班级特色的教育教学</tspan><tspan x="359" dy="16">环境，鼓励幼儿积极参与环境创设，通过幼儿</tspan><tspan x="359" dy="16">的参与充分体现以幼儿为主体的特色环境，发</tspan><tspan x="359" dy="16">挥环境的教育价值，为幼儿创设自主学习的空</tspan><tspan x="359" dy="16">间。另外，我和周老师还创设了适合幼儿年龄</tspan><tspan x="359" dy="16">特点与彰显幼儿个性的区域活动，促进了我班</tspan><tspan x="359" dy="16">幼儿健康、快乐的成长。</tspan></text></g>
<g id="n4-k3" class="b"><rect x="552" y="3034" width="62" height="27" rx="5"/><text class="t" x="558" y="3052">家长工作</text></g>
<g id="n4-ad1" class="b"><rect x="352" y="3089" width="262" height="282" rx="5"/><text class="tp" x="359" y="3106.5"><tspan x="359">高尔基曾经说过："谁爱孩子，孩子就爱他。</tspan><tspan x="359" dy="16">只有爱孩子的人，他才可以教育孩子。"我们</tspan><tspan x="359" dy="16">也总是在说，要做好一名幼儿老师，最基本的</tspan><tspan x="359" dy="16">素质就是要有爱，用心去爱每一个孩子。在工</tspan><tspan x="359" dy="16">作中我注重关注孩子的个性教育，以平常心来</tspan><tspan x="359" dy="16">平等的对待每一名幼儿，让家长满意、放心。</tspan><tspan x="359" dy="16">教育孩子不仅是老师的事情，也是家长的责任</tspan><tspan x="359" dy="16">。和家长沟通是我最头疼的问题，于是我利用</tspan><tspan x="359" dy="16">休息时间给孩子、家长写信。及时地向家长反</tspan><tspan x="359" dy="16">映幼儿在园的生活学习情况，同时也向家长了</tspan><tspan x="359" dy="16">解幼儿在家中的生活情况，以便更好地开展工</tspan><tspan x="359" dy="16">作。经过实践，我逐渐体会到：只要你真正的</tspan><tspan x="359" dy="16">关注了他们的孩子，家长会从孩子身上看到你</tspan><tspan x="359" dy="16">教育过的影子。同时，当你主动的帮助家长，</tspan><tspan x="359" dy="16">诚恳的提出建议。那么，家长就会信任你、支</tspan><tspan x="359" dy="16">持你，在开展班级工作时家长更会积极的配合</tspan><tspan x="359" dy="16">你！</tspan></text></g>
<g id="n4-l3" class="b"><rect x="663" y="3458" width="74" height="27" rx="5"/><text class="tp" x="669" y="3476">其他方面：</text></g>
<g id="n4-ae1" class="b"><rect x="378" y="3403" width="262" height="42" rx="5"/><text class="tp" x="385" y="3420.5"><tspan x="385">"六一"前夕，我不叫苦、不叫累，全身心投入</tspan><tspan x="385" dy="16">，排练节目。</tspan></text></g>
<g id="n4-ae2" class="b"><rect x="378" y="3474" width="262" height="90" rx="5"/><text class="tp" x="385" y="3491.5"><tspan x="385">我热爱幼儿教育事业，我深深体会到幼教工作</tspan><tspan x="385" dy="16">的崇高，责任的伟大！体会到实践工作中的意</tspan><tspan x="385" dy="16">义与欢乐！但在工作中也难免存在不足，我会</tspan><tspan x="385" dy="16">在今后的工作中加以改进，扬长避短，继续努</tspan><tspan x="385" dy="16">力，把工作做好，力争更上一层楼！</tspan></text></g>
</svg>
